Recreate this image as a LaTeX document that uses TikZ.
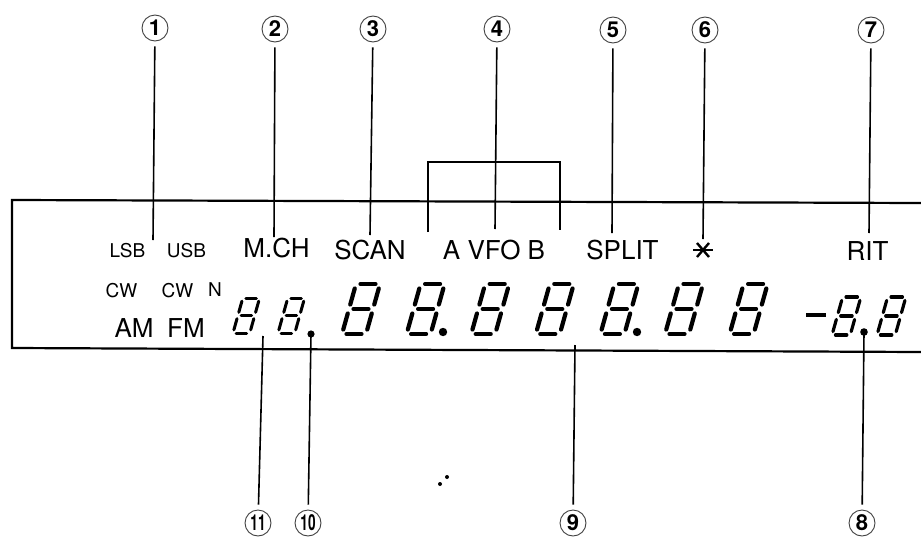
\documentclass[tikz,border=0pt]{standalone}
\usepackage{fontspec}
\setmainfont{TeX Gyre Heros}
\usepackage{graphicx}
\usetikzlibrary{calc}
\tikzset{
  segw/.store in=\segw, segw=4,
  digit/.pic={
    \foreach \a/\b/\c/\d in {4.5/0/19.5/0, 4.5/25/19.5/25, 4.5/50/19.5/50,
                             0/4.5/0/20.5, 0/29.5/0/45.5, 24/4.5/24/20.5, 24/29.5/24/45.5}
      \draw[line width=\segw pt, line cap=round] ({\a+0.28*\b},{-\b}) -- ({\c+0.28*\d},{-\d});
  }
}
\begin{document}
\begin{tikzpicture}[x=1pt,y=-1pt,
  boxline/.style={line width=2.2pt},
  lead/.style={line width=1.6pt},
  callout/.style={circle,draw=black!75,line width=0.9pt,minimum size=26pt,inner sep=0pt,
                  font=\fontsize{22}{22}\selectfont\bfseries},
  lbl/.style={anchor=base,inner sep=0pt,font=\fontsize{26}{26}\selectfont},
  slbl/.style={anchor=base,inner sep=0pt,font=\fontsize{19}{19}\selectfont},
  dotf/.style={fill=black}
]
\useasboundingbox (0,0) rectangle (921,536);

% display frame (open on the right)
\draw[boxline] (921,203) -- (12,200) -- (12,348) -- (921,352);

% labels
\node[slbl] (lsb) at (127.5,257) {LSB};
\node[slbl] (usb) at (186.5,257) {USB};
\node[lbl] (mch) at (276.5,257) {M.CH};
\node[lbl] (scan) at (370,259) {SCAN};
\node[lbl] (vfo) at (494,259) {A VFO B};
\node[lbl] (split) at (622.5,259) {SPLIT};
\node[lbl] (rit) at (867.5,260) {RIT};
\node[slbl] (cw1) at (121.5,297) {CW};
\node[slbl] (cw2) at (177.5,297) {CW};
\node[slbl] (n) at (215,296) {N};
\node[lbl] (am) at (134,337) {AM};
\node[lbl] (fm) at (186,337) {FM};

% asterisk
\coordinate (ast) at (703,250);
\draw[line width=2.4pt] ($(ast)+(-10,0)$) -- ($(ast)+(10,0)$);
\draw[line width=2.4pt] ($(ast)+(-6,-7)$) -- ($(ast)+(6,7)$);
\draw[line width=2.4pt] ($(ast)+(-6,7)$) -- ($(ast)+(6,-7)$);

% big digits
\foreach \i in {0,...,6}
  \pic[segw=4.2] at ({342+64.6*\i},334) {digit};
\fill[dotf] (443,332) circle (4.2);
\fill[dotf] (637,332) circle (4.2);

% small digits left
\pic[scale=0.7,segw=3] at (233,333) {digit};
\pic[scale=0.7,segw=3] at (278,333) {digit};
\fill[dotf] (311,334) circle (3.6);

% small digits right
\draw[line width=4.5pt] (806,315) -- (826,315);
\pic[scale=0.76,segw=3.2] at (832,335) {digit};
\pic[scale=0.76,segw=3.2] at (877,335) {digit};
\fill[dotf] (864,332) circle (3.8);

% stray dots
\fill[dotf] (440,484) circle (2);
\fill[dotf] (447,477) circle (2);

% top callouts
\node[callout] (c1) at (155,28) {1};
\node[callout] (c2) at (275,29) {2};
\node[callout] (c3) at (373,29) {3};
\node[callout] (c4) at (497,29) {4};
\node[callout] (c5) at (613,30) {5};
\node[callout] (c6) at (705,30) {6};
\node[callout] (c7) at (871,30) {7};

\coordinate (e1) at (153,240);
\coordinate (e2) at (274,237);
\coordinate (e3) at (370,235);
\coordinate (e4) at (495,229);
\coordinate (e5) at (612,233);
\coordinate (e6) at (703,239);
\coordinate (e7) at (869,233);
\foreach \k in {1,...,7}
  \draw[lead,shorten <=5pt] (c\k) -- (e\k);

% VFO bracket
\coordinate (bl) at (428,232);
\coordinate (br) at (560,230);
\draw[lead] (bl) -- (428,162) -- (560,162) -- (br);

% bottom callouts
\node[callout] (c11) at (258,523) {\scalebox{0.62}[1]{11}};
\node[callout] (c10) at (308,523) {\scalebox{0.62}[1]{10}};
\node[callout] (c9) at (573,523) {9};
\node[callout] (c8) at (862,523) {8};

\coordinate (t11) at (263,336);
\coordinate (t10) at (311,334);
\coordinate (t9) at (575,345);
\coordinate (t8) at (864,332);
\foreach \k in {8,9,10,11}
  \draw[lead,shorten >=5pt] (t\k) -- (c\k);
\end{tikzpicture}
\end{document}
